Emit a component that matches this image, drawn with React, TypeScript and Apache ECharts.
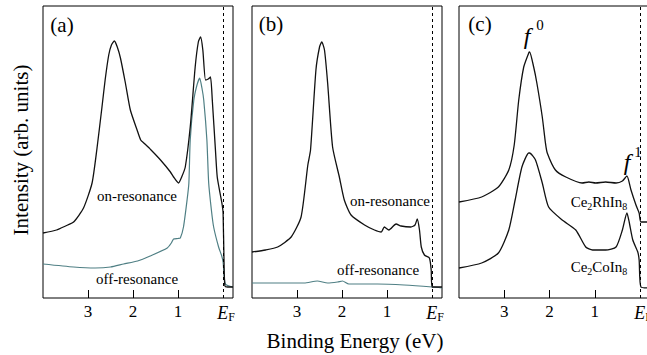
import React, { useEffect, useRef } from "react";
import * as echarts from "echarts";

// Binding energies (eV) and heights (arb. units)
const aOnE = [4.0, 3.7, 3.5, 3.32, 3.1, 2.91, 2.8, 2.69, 2.62, 2.54, 2.48, 2.415, 2.35, 2.28, 2.17, 2.06, 1.91, 1.83, 1.76, 1.6, 1.39, 1.17, 1.1, 0.99, 0.92, 0.84, 0.73, 0.62, 0.55, 0.5, 0.45, 0.39, 0.33, 0.28, 0.24, 0.17, 0.13, 0.06, 0.02, 0.0, -0.02, -0.04, -0.1, -0.22];
const aOnI = [65, 68, 72, 76, 90, 115, 150, 191, 218, 243, 253, 257, 251, 240, 215, 188, 168, 158, 155, 148, 138, 126, 121, 115, 121, 131, 171, 231, 256, 261, 248, 218, 219, 221, 198, 148, 121, 103, 93, 85, 38, 12, 11, 11];

const aOffE = [4.0, 3.32, 2.84, 2.5, 2.21, 1.9, 1.62, 1.24, 1.15, 1.1, 1.0, 0.95, 0.88, 0.8, 0.76, 0.73, 0.65, 0.58, 0.52, 0.47, 0.43, 0.36, 0.32, 0.26, 0.21, 0.1, 0.03, 0.0, -0.05, -0.22];
const aOffI = [34, 31, 30, 31, 34, 37, 42, 50, 55, 59, 59.5, 60, 71, 98, 115, 158, 198, 213, 220, 210, 198, 158, 115, 88, 71, 51, 42, 36, 14, 11];

const bOnE = [4.0, 3.7, 3.43, 3.13, 2.91, 2.76, 2.7, 2.58, 2.5, 2.45, 2.39, 2.32, 2.21, 2.06, 1.95, 1.8, 1.5, 1.28, 1.13, 1.06, 0.96, 0.8, 0.69, 0.47, 0.38, 0.33, 0.28, 0.24, 0.17, 0.06, 0.02, 0.0, -0.22];
const bOnI = [46, 48, 51, 61, 81, 133, 148, 228, 251, 256, 248, 215, 151, 121, 98, 83, 73, 68, 66, 71, 68, 74, 72, 71, 73, 79, 68, 51, 43, 40, 28, 11, 11];

const bOffE = [4.0, 3.43, 2.84, 2.55, 2.32, 2.1, 1.99, 1.85, 1.21, 0.62, 0.0, -0.22];
const bOffI = [15, 15, 15, 17, 15, 16, 17, 14, 14, 13, 11, 10];

const cRhE = [4.0, 3.5, 3.13, 2.9, 2.78, 2.68, 2.57, 2.46, 2.44, 2.35, 2.28, 2.16, 2.09, 2.05, 1.87, 1.64, 1.28, 1.13, 0.98, 0.76, 0.53, 0.39, 0.29, 0.2, 0.09, 0.02, -0.02, -0.22];
const cRhI = [96, 101, 111, 128, 153, 198, 231, 245, 246, 231, 215, 181, 155, 145, 128, 121, 115, 116, 115, 116, 115, 117, 122, 108, 93, 85, 76, 76];

const cCoE = [4.0, 3.5, 3.13, 2.9, 2.76, 2.61, 2.46, 2.44, 2.31, 2.16, 2.02, 1.72, 1.42, 1.2, 1.05, 0.76, 0.53, 0.39, 0.29, 0.24, 0.16, 0.05, 0.02, -0.02, -0.22];
const cCoI = [30, 35, 45, 68, 98, 131, 145, 145, 138, 115, 91, 78, 68, 51, 48, 48, 51, 68, 85, 76, 58, 46, 38, 11, 10];

const tickValues = [1, 2, 3];
const labelValues = [0, 1, 2, 3];

const SERIF = "Times New Roman, Liberation Serif, DejaVu Serif, serif";
const BLACK = "#111";
const TEAL = "#4f7f84";

function pairs(e: number[], v: number[]) {
  return e.map((x, i) => [x, v[i]]);
}

export default function App() {
  const ref = useRef<HTMLDivElement>(null);
  useEffect(() => {
    if (!ref.current) return;
    const chart = echarts.init(ref.current, undefined, { renderer: "svg" });
    const grids = [
      { left: 43, top: 6, width: 190, height: 292 },
      { left: 252, top: 6, width: 190, height: 292 },
      { left: 459, top: 6, width: 191, height: 292 },
    ].map((g) => ({
      ...g,
      show: true,
      containLabel: false,
      outerBoundsMode: "none",
      borderColor: "#000",
      borderWidth: 1,
      backgroundColor: "transparent",
    }));

    const xAxes = [0, 1, 2].map((i) => ({
      type: "value",
      gridIndex: i,
      inverse: true,
      min: -0.22,
      max: 4.0,
      axisLine: { show: false },
      splitLine: { show: false },
      axisTick: { show: true, inside: true, length: 8, customValues: tickValues, lineStyle: { color: "#000", width: 1 } },
      axisLabel: {
        show: true,
        customValues: labelValues,
        margin: 5,
        color: "#000",
        fontFamily: SERIF,
        fontSize: 17,
        hideOverlap: false,
        formatter: (v: number) => (v === 0 ? "{e|E}{f|F}" : String(v)),
        rich: {
          e: { fontFamily: SERIF, fontSize: 18, fontStyle: "italic", color: "#000", lineHeight: 20, padding: [0, 0, 0, 6] },
          f: { fontFamily: SERIF, fontSize: 12, color: "#000", lineHeight: 8, verticalAlign: "bottom" },
        },
      },
    }));
    const yAxes = [0, 1, 2].map((i) => ({ type: "value", gridIndex: i, min: 0, max: 292, show: false }));

    const efLine = {
      silent: true,
      symbol: ["none", "none"],
      label: { show: false },
      lineStyle: { color: "#000", type: [3, 3], width: 1 },
      data: [{ xAxis: 0 }],
    };

    const mk = (idx: number, e: number[], v: number[], color: string, width: number, withLine: boolean) => ({
      type: "line",
      xAxisIndex: idx,
      yAxisIndex: idx,
      data: pairs(e, v),
      showSymbol: false,
      smooth: 0.2,
      lineStyle: { color, width },
      ...(withLine ? { markLine: efLine } : {}),
    });

    const txt = (x: number, y: number, text: string, size: number, extra: any = {}, italic = false) => ({
      type: "text",
      x,
      y,
      silent: true,
      style: {
        text,
        font: (italic ? "italic " : "") + size + "px " + SERIF,
        fill: "#000",
        align: "center",
        verticalAlign: "middle",
        ...extra,
      },
    });

    const richSub = {
      n: { font: "15px " + SERIF, fill: "#000", lineHeight: 18 },
      s: { font: "10px " + SERIF, fill: "#000", lineHeight: 6, verticalAlign: "bottom" },
    };

    chart.setOption({
      animation: false,
      backgroundColor: "#fff",
      textStyle: { fontFamily: SERIF },
      grid: grids,
      xAxis: xAxes,
      yAxis: yAxes,
      series: [
        mk(0, aOffE, aOffI, TEAL, 1.2, false),
        mk(0, aOnE, aOnI, BLACK, 1.3, true),
        mk(1, bOffE, bOffI, TEAL, 1.2, false),
        mk(1, bOnE, bOnI, BLACK, 1.3, true),
        mk(2, cCoE, cCoI, BLACK, 1.3, false),
        mk(2, cRhE, cRhI, BLACK, 1.3, true),
      ],
      graphic: [
        txt(62, 25, "(a)", 21),
        txt(271, 24, "(b)", 21),
        txt(480, 24, "(c)", 21),
        txt(137, 196, "on-resonance", 15),
        txt(137, 279, "off-resonance", 15),
        txt(390, 201, "on-resonance", 15),
        txt(378, 270, "off-resonance", 15),
        txt(527, 36, "f", 24, {}, true),
        txt(540, 25, "0", 15),
        txt(627, 162, "f", 24, {}, true),
        txt(638, 152, "1", 15),
        txt(599, 202, "{n|Ce}{s|2}{n|RhIn}{s|8}", 15, { rich: richSub }),
        txt(599, 267, "{n|Ce}{s|2}{n|CoIn}{s|8}", 15, { rich: richSub }),
        { ...txt(21, 150, "Intensity (arb. units)", 21), rotation: Math.PI / 2 },
        txt(355, 341, "Binding Energy (eV)", 21),
      ],
    });
    return () => chart.dispose();
  }, []);
  return <div ref={ref} style={{ position: "absolute", left: 0, top: 0, width: 647, height: 355 }} />;
}
